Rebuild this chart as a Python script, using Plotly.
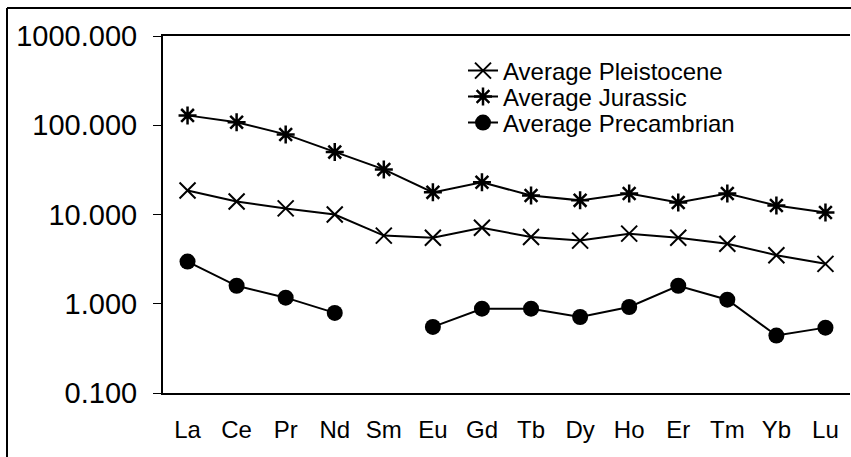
import plotly.graph_objects as go

elements = ["La", "Ce", "Pr", "Nd", "Sm", "Eu", "Gd", "Tb", "Dy", "Ho", "Er", "Tm", "Yb", "Lu"]
pleistocene = [18.6, 14.0, 11.7, 10.0, 5.8, 5.5, 7.1, 5.6, 5.1, 6.1, 5.5, 4.7, 3.5, 2.8]
jurassic = [129, 108, 79, 50, 32, 17.7, 23, 16.3, 14.4, 17.2, 13.6, 17.2, 12.6, 10.5]
precambrian = [2.97, 1.59, 1.17, 0.79, None, 0.55, 0.88, 0.88, 0.71, 0.92, 1.59, 1.11, 0.44, 0.54]

y_tickvals = [0.1, 1, 10, 100, 1000]
y_ticktext = ["0.100", "1.000", "10.000", "100.000", "1000.000"]

FONT = "Liberation Sans, Arial, sans-serif"

fig = go.Figure()
fig.add_trace(go.Scatter(
    x=elements, y=pleistocene, name="Average Pleistocene", mode="lines+markers",
    line=dict(color="black", width=2),
    marker=dict(symbol="x-thin", size=16, line=dict(color="black", width=2)),
    legend="legend"))
fig.add_trace(go.Scatter(
    x=elements, y=jurassic, name="Average Jurassic", mode="lines+markers",
    line=dict(color="black", width=2),
    marker=dict(symbol="asterisk", size=15, line=dict(color="black", width=2.5)),
    legend="legend2"))
fig.add_trace(go.Scatter(
    x=elements, y=precambrian, name="Average Precambrian", mode="lines+markers",
    line=dict(color="black", width=2), connectgaps=False,
    marker=dict(symbol="circle", size=16, color="black"),
    legend="legend3"))

leg_common = dict(font=dict(family=FONT, size=24, color="black"),
                  bgcolor="rgba(0,0,0,0)", borderwidth=0,
                  xanchor="left", yanchor="middle", x=(463 - 163) / 687)
fig.update_layout(
    width=851, height=457,
    margin=dict(l=163, r=1, t=36, b=64),
    paper_bgcolor="white", plot_bgcolor="white",
    font=dict(family=FONT, color="black"),
    showlegend=True,
    legend=dict(leg_common, y=(393 - 71) / 357),
    legend2=dict(leg_common, y=(393 - 97) / 357),
    legend3=dict(leg_common, y=(393 - 123) / 357),
    xaxis=dict(
        type="category", range=[-0.5, 13.5],
        showline=True, linecolor="black", linewidth=2, mirror=True,
        showgrid=False, zeroline=False, ticks="",
        tickfont=dict(family=FONT, size=24, color="black"),
        ticklabelstandoff=14),
    yaxis=dict(
        type="log", range=[-1, 3],
        tickvals=y_tickvals, ticktext=y_ticktext,
        showline=True, linecolor="black", linewidth=2, mirror=False,
        showgrid=False, zeroline=False,
        ticks="outside", ticklen=8, tickwidth=1, tickcolor="black",
        tickfont=dict(family=FONT, size=29, color="black"),
        ticklabelstandoff=10),
    shapes=[
        dict(type="line", xref="paper", yref="paper",
             x0=(7 - 163) / 687, x1=(851 - 163) / 687,
             y0=(393 - 8) / 357, y1=(393 - 8) / 357,
             line=dict(color="black", width=2)),
        dict(type="line", xref="paper", yref="paper",
             x0=(7 - 163) / 687, x1=(7 - 163) / 687,
             y0=(393 - 8) / 357, y1=(393 - 460) / 357,
             line=dict(color="black", width=2)),
    ],
)

fig.write_html("out.html", config={"displayModeBar": False},
               post_script="document.body.style.margin='0';")
